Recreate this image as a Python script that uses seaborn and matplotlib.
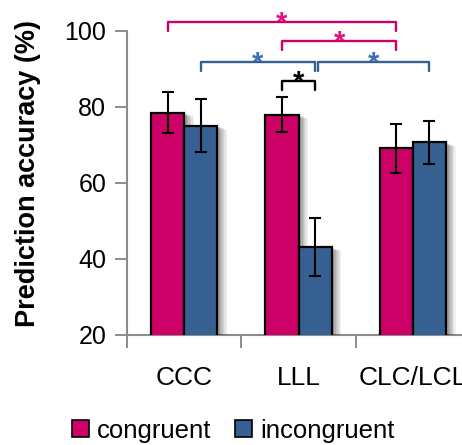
import numpy as np
import pandas as pd
import matplotlib
matplotlib.use("Agg")
import matplotlib.pyplot as plt
import matplotlib.patheffects as pe
from matplotlib.patches import Patch
import seaborn as sns

# Mean prediction accuracy (%) and error half-widths per condition
conditions = ["CCC", "LLL", "CLC/LCL"]
congruent = [78.5, 78.0, 69.1]
incongruent = [75.1, 43.2, 70.7]
congruent_err = [5.4, 4.6, 6.4]
incongruent_err = [7.0, 7.7, 5.6]
groups = ["congruent", "incongruent"]

df = pd.DataFrame({
    "condition": conditions * 2,
    "group": [groups[0]] * 3 + [groups[1]] * 3,
    "accuracy": congruent + incongruent,
    "err": congruent_err + incongruent_err,
})

sns.set_style("white")
plt.rcParams["font.family"] = ["Liberation Sans", "DejaVu Sans"]
plt.rcParams["text.color"] = "black"
plt.rcParams["axes.labelcolor"] = "black"

PINK = "#CC0066"
BLUE = "#366092"
AXIS_GREY = "#8C8C8C"

fig = plt.figure(figsize=(4.62, 4.45), dpi=100)
ax = fig.add_axes([127 / 462, 110 / 445, 343 / 462, 304 / 445])

sns.barplot(data=df, x="condition", y="accuracy", hue="group",
            order=conditions, hue_order=groups,
            palette=[PINK, BLUE], saturation=1, width=0.58, gap=0, errorbar=None,
            edgecolor="black", linewidth=1.6, legend=False, ax=ax, zorder=3)

# soft drop shadow behind each bar
shadow = [pe.SimplePatchShadow(offset=(d, -d * 0.4), shadow_rgbFace="black", alpha=a)
          for d, a in [(7, 0.05), (6, 0.06), (5, 0.07), (4, 0.08), (3, 0.09), (2, 0.1)]]
for p in ax.patches:
    p.set_path_effects(shadow + [pe.Normal()])

# error bars at the bar centres
centres = {}
for i, p in enumerate(ax.patches):
    g = groups[i // 3]
    c = conditions[i % 3]
    xc = p.get_x() + p.get_width() / 2
    centres[(c, g)] = xc
    row = df[(df.condition == c) & (df.group == g)].iloc[0]
    ax.errorbar(xc, row.accuracy, yerr=row.err, color="black", lw=1.5,
                capsize=4.3, capthick=1.5, zorder=5)

ax.set_ylim(20, 100)
ax.set_xlim(-0.5, 2.5)
ax.set_yticks([20, 40, 60, 80, 100])
ax.set_xticks([-0.5, 0.5, 1.5, 2.5])
ax.set_xticklabels([])
ax.set_xticks([0, 1, 2], minor=True)
ax.set_xticklabels(conditions, minor=True)
ax.tick_params(axis="x", which="major", direction="out", length=9, width=1.4,
               color=AXIS_GREY, bottom=True)
ax.tick_params(axis="x", which="minor", length=0, labelsize=19, pad=22,
               labelcolor="black")
ax.tick_params(axis="y", direction="out", length=9, width=1.4, color=AXIS_GREY,
               left=True, labelsize=18, pad=6, labelcolor="black")
for side in ["top", "right"]:
    ax.spines[side].set_visible(False)
for side in ["left", "bottom"]:
    ax.spines[side].set_color(AXIS_GREY)
    ax.spines[side].set_linewidth(1.5)
ax.set_xlabel("")
ax.set_ylabel("Prediction accuracy (%)", fontsize=19.5, fontweight="bold", color="black")
ax.yaxis.set_label_coords(-0.25, 0.53)


def bracket(x1, x2, y, leg, color, star_color):
    ax.plot([x1, x1, x2, x2], [y - leg, y, y, y - leg], color=color, lw=1.7,
            clip_on=False, zorder=6, solid_joinstyle="round", solid_capstyle="round")
    ax.text((x1 + x2) / 2, y - 2.6, "*", ha="center", va="baseline", fontsize=21,
            fontweight="bold", color=star_color, clip_on=False)


STAR_PINK = "#E0147C"
STAR_BLUE = "#3C70B4"
bracket(centres[("CCC", "congruent")], centres[("CLC/LCL", "congruent")], 102.3, 2.4,
        PINK, STAR_PINK)
bracket(centres[("LLL", "congruent")], centres[("CLC/LCL", "congruent")], 97.4, 2.3,
        PINK, STAR_PINK)
bracket(centres[("CCC", "incongruent")], centres[("LLL", "incongruent")], 91.9, 2.4,
        BLUE, STAR_BLUE)
bracket(centres[("LLL", "incongruent")] + 0.025, centres[("CLC/LCL", "incongruent")], 91.9, 2.4,
        BLUE, STAR_BLUE)
bracket(centres[("LLL", "congruent")], centres[("LLL", "incongruent")], 86.9, 2.5,
        "black", "black")

# legend below the axes
handles = [Patch(facecolor=PINK, edgecolor="black", lw=1.2),
           Patch(facecolor=BLUE, edgecolor="black", lw=1.2)]
leg = fig.legend(handles, groups, loc="lower left", bbox_to_anchor=(62 / 462, -0.018),
                 ncol=2, frameon=False, fontsize=18.5, handlelength=0.65, handleheight=0.65,
                 handletextpad=0.3, columnspacing=0.95, borderaxespad=0)
for t in leg.get_texts():
    t.set_color("black")

fig.savefig("out.png", dpi=100)
